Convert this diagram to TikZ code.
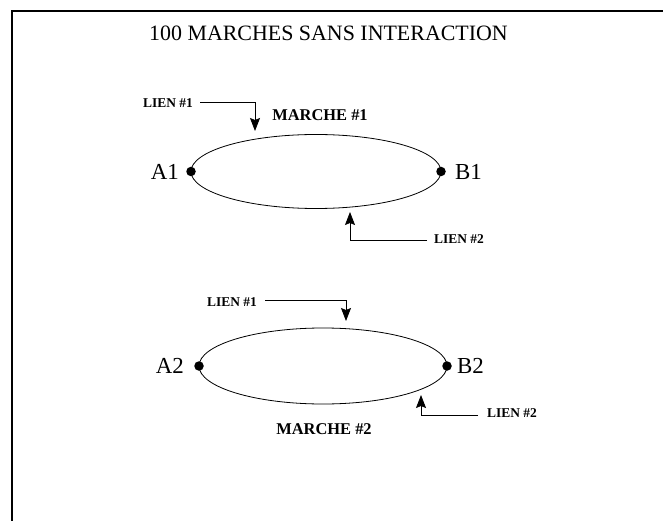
\documentclass[tikz,border=0pt]{standalone}
\usepackage{fontspec}
\setmainfont{Liberation Serif}
\usetikzlibrary{arrows.meta}
\begin{document}
\begin{tikzpicture}[x=1bp,y=-1bp,
  frameline/.style={line width=2.5bp},
  walk/.style={line width=0.8bp},
  link/.style={line width=0.8bp,-{Stealth[length=13bp,width=10bp,inset=2bp]}},
  endpt/.style={circle,fill,inner sep=0pt,minimum size=9.5bp},
  ptlabel/.style={font=\fontsize{23}{25}\selectfont,inner sep=0pt},
  linklabel/.style={font=\bfseries\fontsize{13.5}{15}\selectfont,inner sep=0pt},
  walklabel/.style={font=\bfseries\fontsize{16.5}{18}\selectfont,inner sep=0pt}]
\useasboundingbox (0,0) rectangle (663,521);
\fill[white] (0,0) rectangle (663,521);

% frame (open to the right and bottom)
\draw[frameline] (12,521) -- (12,11) -- (663,11);

% title
\node[font=\fontsize{22}{24}\selectfont,inner sep=0pt] (title) at (328.5,33) {100 MARCHES SANS INTERACTION};

% ---- first walk ----
\draw[walk] (316,171.5) ellipse [x radius=125, y radius=37];
\node[endpt] (a1) at (191,171.5) {};
\node[endpt] (b1) at (441,171.5) {};
\node[ptlabel,anchor=east] (a1lab) at (179,172) {A1};
\node[ptlabel,anchor=west] (b1lab) at (455,172) {B1};
\node[walklabel] (m1) at (320,115) {MARCHE \#1};

\node[linklabel,anchor=east] (l1a) at (193,103) {LIEN \#1};
\coordinate (l1atip) at (255,131);
\draw[link] (l1a.east) ++(7,-1) -| (l1atip);

\node[linklabel,anchor=west] (l2a) at (434,239.5) {LIEN \#2};
\coordinate (l2atip) at (350,212);
\draw[link] (l2a.west) ++(-7,0.5) -| (l2atip);

% ---- second walk ----
\draw[walk] (323,366) ellipse [x radius=124, y radius=38];
\node[endpt] (a2) at (199,366) {};
\node[endpt] (b2) at (447,366) {};
\node[ptlabel,anchor=east] (a2lab) at (184,366) {A2};
\node[ptlabel,anchor=west] (b2lab) at (457,366) {B2};
\node[walklabel] (m2) at (324,429) {MARCHE \#2};

\node[linklabel,anchor=east] (l1b) at (257,302) {LIEN \#1};
\coordinate (l1btip) at (346,321);
\draw[link] (l1b.east) ++(8,-2) -| (l1btip);

\node[linklabel,anchor=west] (l2b) at (487,413) {LIEN \#2};
\coordinate (l2btip) at (421,395);
\draw[link] (l2b.west) ++(-9,2) -| (l2btip);
\end{tikzpicture}
\end{document}
